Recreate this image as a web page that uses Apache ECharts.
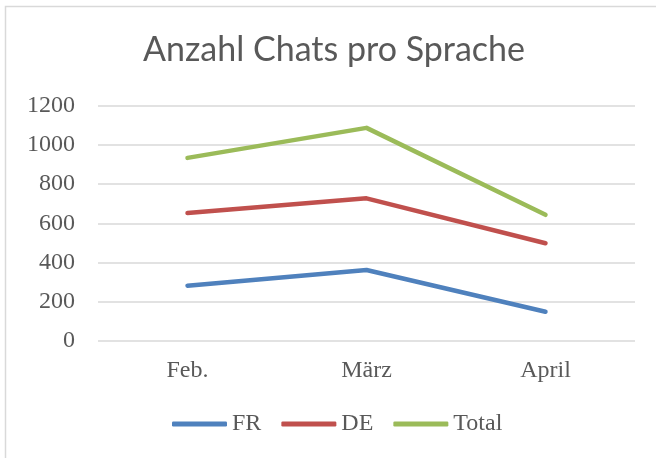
<!DOCTYPE html>
<html><head><meta charset="utf-8">
<script src="https://cdn.jsdelivr.net/npm/echarts@6/dist/echarts.min.js"></script>
<style>html,body{margin:0;padding:0;background:#fff}#c{width:656px;height:458px}</style>
</head><body><div id="c"></div>
<script>
const categories = ['Feb.', 'März', 'April'];
const fr = [282, 362, 149];
const de = [652, 727, 498];
const total = [933, 1086, 643];
const yTicks = [0, 200, 400, 600, 800, 1000, 1200];

const chart = echarts.init(document.getElementById('c'));
const serif = "'Liberation Serif', 'DejaVu Serif', serif";
function mk(name, data, color) {
  return { name, type: 'line', data, symbol: 'none', smooth: false,
    lineStyle: { color, width: 4.5, cap: 'round', join: 'round' }, itemStyle: { color } };
}
chart.setOption({
  animation: false,
  backgroundColor: '#fff',
  graphic: [{ type: 'rect', shape: { x: 5.5, y: 6.5, width: 700, height: 500 },
    style: { fill: 'none', stroke: '#d9d9d9', lineWidth: 1.5 }, silent: true }],
  title: { text: 'Anzahl Chats pro Sprache', left: 329, top: 28, textAlign: 'center',
    textStyle: { fontFamily: "Lato, 'Open Sans', sans-serif", fontWeight: 'normal', fontSize: 34, color: '#595959' } },
  legend: { top: 407, left: 167, itemWidth: 55, itemHeight: 5, itemGap: 20,
    icon: 'roundRect',
    textStyle: { fontFamily: serif, fontSize: 24, color: '#595959' },
    data: ['FR', 'DE', 'Total'] },
  grid: { left: 98, right: 21, top: 105.5, bottom: 117, containLabel: false },
  xAxis: { type: 'category', data: categories, boundaryGap: true,
    axisLine: { show: false }, axisTick: { show: false },
    axisLabel: { margin: 18, fontFamily: serif, fontSize: 24, color: '#595959' } },
  yAxis: { type: 'value', min: yTicks[0], max: yTicks[yTicks.length - 1], interval: 200,
    axisLine: { show: false }, axisTick: { show: false },
    splitLine: { lineStyle: { color: '#d9d9d9', width: 1.5 } },
    axisLabel: { margin: 23, fontFamily: serif, fontSize: 24, color: '#595959', formatter: v => String(v) } },
  series: [mk('FR', fr, '#4f81bd'), mk('DE', de, '#c0504d'), mk('Total', total, '#9bbb59')]
});
</script></body></html>
